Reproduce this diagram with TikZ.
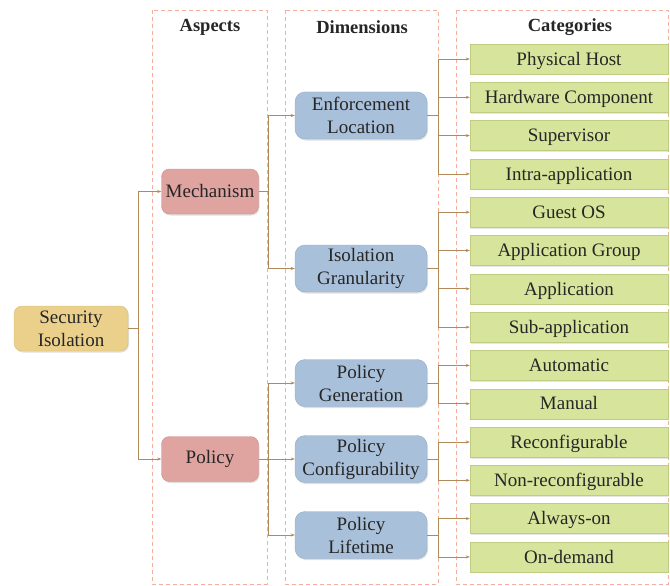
\documentclass[tikz,border=0pt]{standalone}
\usepackage{fontspec}
\setmainfont{Liberation Serif}
\usetikzlibrary{arrows.meta,shadows}
\definecolor{dashc}{HTML}{F5AD9C}
\definecolor{linec}{HTML}{B08A58}
\definecolor{secf}{HTML}{EBD08C}
\definecolor{secd}{HTML}{D9BC78}
\definecolor{aspf}{HTML}{DFA3A0}
\definecolor{aspd}{HTML}{CC8F8C}
\definecolor{dimf}{HTML}{A9C0DA}
\definecolor{dimd}{HTML}{93AAC6}
\definecolor{catf}{HTML}{D7E49B}
\definecolor{catd}{HTML}{BFCC82}
\begin{document}
\begin{tikzpicture}[x=1pt,y=-1pt,
  every node/.style={font=\fontsize{19}{23}\selectfont, text=black!85},
  colbox/.style={draw=dashc, dashed, line width=0.8pt, dash pattern=on 4pt off 3pt},
  header/.style={font=\fontsize{18.5}{22}\selectfont\bfseries},
  secbox/.style={draw=secd, fill=secf, rounded corners=8pt, minimum width=114pt, minimum height=45pt, align=center, inner sep=1pt, drop shadow={opacity=0.25, shadow xshift=1pt, shadow yshift=-1.5pt}},
  aspbox/.style={draw=aspd, fill=aspf, rounded corners=8pt, minimum width=97pt, minimum height=45pt, align=center, inner sep=1pt, drop shadow={opacity=0.25, shadow xshift=1pt, shadow yshift=-1.5pt}},
  dimbox/.style={draw=dimd, fill=dimf, rounded corners=10pt, minimum width=132pt, minimum height=47pt, align=center, inner sep=1pt, drop shadow={opacity=0.25, shadow xshift=1pt, shadow yshift=-1.5pt}},
  catbox/.style={draw=catd, fill=catf, minimum width=198pt, minimum height=30pt, inner sep=1pt, text height=15pt, text depth=2.5pt, drop shadow={opacity=0.2, shadow xshift=1pt, shadow yshift=-1.5pt}},
  conn/.style={draw=linec, line width=0.7pt, -{Stealth[length=4pt,width=3pt]}},
  trunk/.style={draw=linec, line width=0.7pt}
]
\useasboundingbox (0,0) rectangle (670,586);
% column frames
\draw[colbox] (152,10) rectangle (267,584);
\draw[colbox] (285,10) rectangle (438,584);
\draw[colbox] (456,10) rectangle (668,584);
\node[header] (hA) at (210,27) {Aspects};
\node[header] (hD) at (362,27) {Dimensions};
\node[header] (hC) at (570,27) {Categories};
% nodes
\node[secbox] (sec) at (71,328.5) {Security\\Isolation};
\node[aspbox] (mech) at (210,191.5) {Mechanism};
\node[aspbox] (pol) at (210,459) {Policy};
\node[dimbox] (enf) at (361,115.5) {Enforcement\\Location};
\node[dimbox] (gran) at (361,268.5) {Isolation\\Granularity};
\node[dimbox] (gen) at (361,383) {Policy\\Generation};
\node[dimbox] (conf) at (361,459) {Policy\\Configurability};
\node[dimbox] (life) at (361,535) {Policy\\Lifetime};
\node[catbox] (c1) at (569,59) {Physical Host};
\node[catbox] (c2) at (569,97.3) {Hardware Component};
\node[catbox] (c3) at (569,135.6) {Supervisor};
\node[catbox] (c4) at (569,173.9) {Intra-application};
\node[catbox] (c5) at (569,212.2) {Guest OS};
\node[catbox] (c6) at (569,250.5) {Application Group};
\node[catbox] (c7) at (569,288.8) {Application};
\node[catbox] (c8) at (569,327.1) {Sub-application};
\node[catbox] (c9) at (569,365.4) {Automatic};
\node[catbox] (c10) at (569,403.7) {Manual};
\node[catbox] (c11) at (569,442) {Reconfigurable};
\node[catbox] (c12) at (569,480.3) {Non-reconfigurable};
\node[catbox] (c13) at (569,518.6) {Always-on};
\node[catbox] (c14) at (569,556.9) {On-demand};
% coordinates for branch points
\coordinate (b0) at (138,328.5);
\coordinate (b1) at (268,191.5);
\coordinate (b2) at (268,459);
\coordinate (b3) at (438,115.5);
\coordinate (b4) at (438,268.5);
\coordinate (b5) at (438,383);
\coordinate (b6) at (438,459);
\coordinate (b7) at (438,535);
% connectors
\draw[trunk] (sec.east) -- (b0);
\foreach \t in {mech,pol} \draw[conn] (b0) |- (\t.west);
\draw[trunk] (mech.east) -- (b1);
\foreach \t in {enf,gran} \draw[conn] (b1) |- (\t.west);
\draw[trunk] (pol.east) -- (b2);
\foreach \t in {gen,conf,life} \draw[conn] (b2) |- (\t.west);
\draw[trunk] (enf.east) -- (b3);
\foreach \t in {c1,c2,c3,c4} \draw[conn] (b3) |- (\t.west);
\draw[trunk] (gran.east) -- (b4);
\foreach \t in {c5,c6,c7,c8} \draw[conn] (b4) |- (\t.west);
\draw[trunk] (gen.east) -- (b5);
\foreach \t in {c9,c10} \draw[conn] (b5) |- (\t.west);
\draw[trunk] (conf.east) -- (b6);
\foreach \t in {c11,c12} \draw[conn] (b6) |- (\t.west);
\draw[trunk] (life.east) -- (b7);
\foreach \t in {c13,c14} \draw[conn] (b7) |- (\t.west);
\end{tikzpicture}
\end{document}
